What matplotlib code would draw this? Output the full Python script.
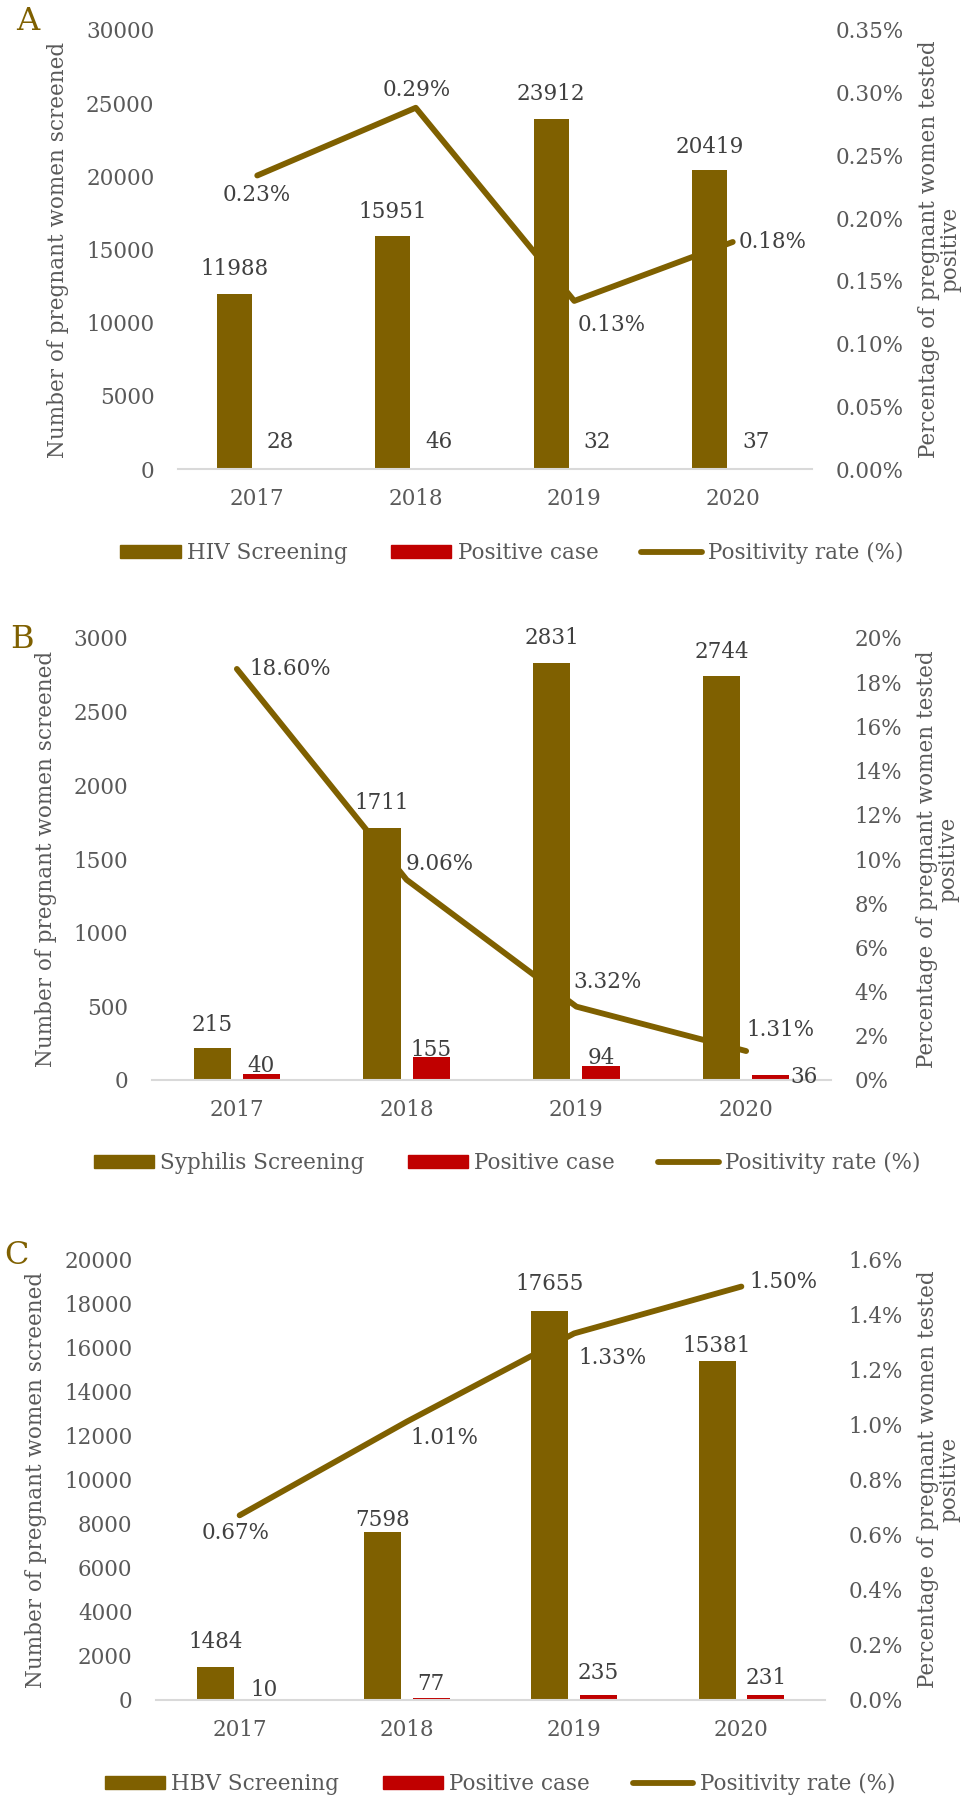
import matplotlib
matplotlib.use('Agg')
import matplotlib.pyplot as plt
from matplotlib.patches import Patch
from matplotlib.lines import Line2D
from matplotlib.ticker import FuncFormatter, MultipleLocator

# ── Data ───────────────────────────────────────────────────────────────
years = ['2017', '2018', '2019', '2020']

hiv_screened = [11988, 15951, 23912, 20419]
hiv_positive = [28, 46, 32, 37]
hiv_rate     = [0.234, 0.288, 0.134, 0.181]
hiv_rate_lbl = ['0.23%', '0.29%', '0.13%', '0.18%']

syp_screened = [215, 1711, 2831, 2744]
syp_positive = [40, 155, 94, 36]
syp_rate     = [18.60, 9.06, 3.32, 1.31]
syp_rate_lbl = ['18.60%', '9.06%', '3.32%', '1.31%']

hbv_screened = [1484, 7598, 17655, 15381]
hbv_positive = [10, 77, 235, 231]
hbv_rate     = [0.67, 1.01, 1.33, 1.50]
hbv_rate_lbl = ['0.67%', '1.01%', '1.33%', '1.50%']

# ── Style ──────────────────────────────────────────────────────────────
BROWN = '#7F6000'
RED = '#C00000'
GREY = '#595959'
DARK = '#404040'
plt.rcParams['font.family'] = ['DejaVu Serif']
FS = 15.5
LW = 4.2

W, H = 973, 1804
fig = plt.figure(figsize=(W / 100, H / 100), dpi=100)


def draw_panel(rect, letter, letter_xy, screened, positive, rate, rate_lbl,
               ymax, ystep, pmax, pstep, pfmt, name,
               scr_off, pos_off, rate_off, legend_xy):
    ax = fig.add_axes(rect)
    x = range(len(years))
    bw, sh = 0.22, 0.145
    ax.bar([i - sh for i in x], screened, bw, color=BROWN, zorder=2)
    ax.bar([i + sh for i in x], positive, bw, color=RED, zorder=2)
    ax.set_xlim(-0.5, len(years) - 0.5)
    ax.set_ylim(0, ymax)
    ax.yaxis.set_major_locator(MultipleLocator(ystep))
    ax.set_xticks(list(x))
    ax.set_xticklabels(years)
    for s in ['top', 'left', 'right']:
        ax.spines[s].set_visible(False)
    ax.spines['bottom'].set_color('#D9D9D9')
    ax.spines['bottom'].set_linewidth(1.5)
    ax.tick_params(length=0, labelsize=FS, colors=GREY)
    ax.tick_params(axis='y', pad=17)
    ax.tick_params(axis='x', pad=14)
    ax.set_ylabel('Number of pregnant women screened', fontsize=FS, color=GREY,
                  labelpad=12)

    for i in x:
        ax.annotate(f'{screened[i]}', (i - sh, screened[i]), xytext=(0, scr_off[i]),
                    textcoords='offset points', ha='center', va='center',
                    fontsize=FS, color=DARK)
        ox, oy, ha = pos_off[i]
        ax.annotate(f'{positive[i]}', (i + sh + (bw / 2 if ha == 'left' else 0), positive[i]),
                    xytext=(ox, oy), textcoords='offset points', ha=ha, va='center',
                    fontsize=FS, color=DARK)

    ax2 = ax.twinx()
    ax2.plot(list(x), rate, color=BROWN, lw=LW, solid_capstyle='round', zorder=3)
    ax2.set_ylim(0, pmax)
    ax2.yaxis.set_major_locator(MultipleLocator(pstep))
    ax2.yaxis.set_major_formatter(FuncFormatter(lambda v, p: pfmt.format(v)))
    for s in ['top', 'left', 'right', 'bottom']:
        ax2.spines[s].set_visible(False)
    ax2.tick_params(length=0, labelsize=FS, colors=GREY, pad=17)
    ax2.set_ylabel('Percentage of pregnant women tested\npositive', fontsize=FS,
                   color=GREY, rotation=90, labelpad=10, linespacing=0.95)
    for i in x:
        ox, oy, ha = rate_off[i]
        ax2.annotate(rate_lbl[i], (i, rate[i]), xytext=(ox, oy),
                     textcoords='offset points', ha=ha, va='center',
                     fontsize=FS, color=DARK)

    fig.text(letter_xy[0] / W, 1 - letter_xy[1] / H, letter, fontsize=23,
             color=BROWN, ha='center', va='center')

    handles = [Patch(color=BROWN), Patch(color=RED),
               Line2D([0], [0], color=BROWN, lw=LW, solid_capstyle='round')]
    fig.legend(handles, [name, 'Positive case', 'Positivity rate (%)'],
               loc='center', bbox_to_anchor=(legend_xy[0] / W, 1 - legend_xy[1] / H),
               ncol=3, frameon=False, fontsize=FS, labelcolor=GREY,
               handlelength=2.8, handleheight=0.55, handletextpad=0.3,
               columnspacing=2.0)


pct2 = '{:.2f}%'
draw_panel([178 / W, 1 - 469 / H, 634 / W, 439 / H], 'A', (28, 22),
           hiv_screened, hiv_positive, hiv_rate, hiv_rate_lbl,
           30000, 5000, 0.35, 0.05, pct2, 'HIV Screening',
           [18, 17, 18, 17],
           [(0, 19, 'center')] * 4,
           [(0, -14, 'center'), (1, 13, 'center'), (27, -17, 'center'), (4, 0, 'left')],
           (512, 553))

draw_panel([152 / W, 1 - 1080 / H, 679 / W, 442 / H], 'B', (22, 640),
           syp_screened, syp_positive, syp_rate, syp_rate_lbl,
           3000, 500, 20, 2, '{:.0f}%', 'Syphilis Screening',
           [17, 18, 18, 17],
           [(0, 6, 'center'), (0, 5, 'center'), (0, 6, 'center'), (1, -2, 'left')],
           [(9, 0, 'left'), (-1, 11, 'left'), (-2, 18, 'left'), (0, 15, 'left')],
           (507, 1163))

draw_panel([156 / W, 1 - 1700 / H, 669 / W, 441 / H], 'C', (16, 1255),
           hbv_screened, hbv_positive, hbv_rate, hbv_rate_lbl,
           20000, 2000, 1.6, 0.2, '{:.1f}%', 'HBV Screening',
           [18, 9, 19, 11],
           [(0, 7, 'center'), (0, 10, 'center'), (0, 16, 'center'), (0, 12, 'center')],
           [(-3, -13, 'center'), (27, -12, 'center'), (28, -18, 'center'), (6, 3, 'left')],
           (500, 1784))

fig.savefig('out.png', dpi=100)
